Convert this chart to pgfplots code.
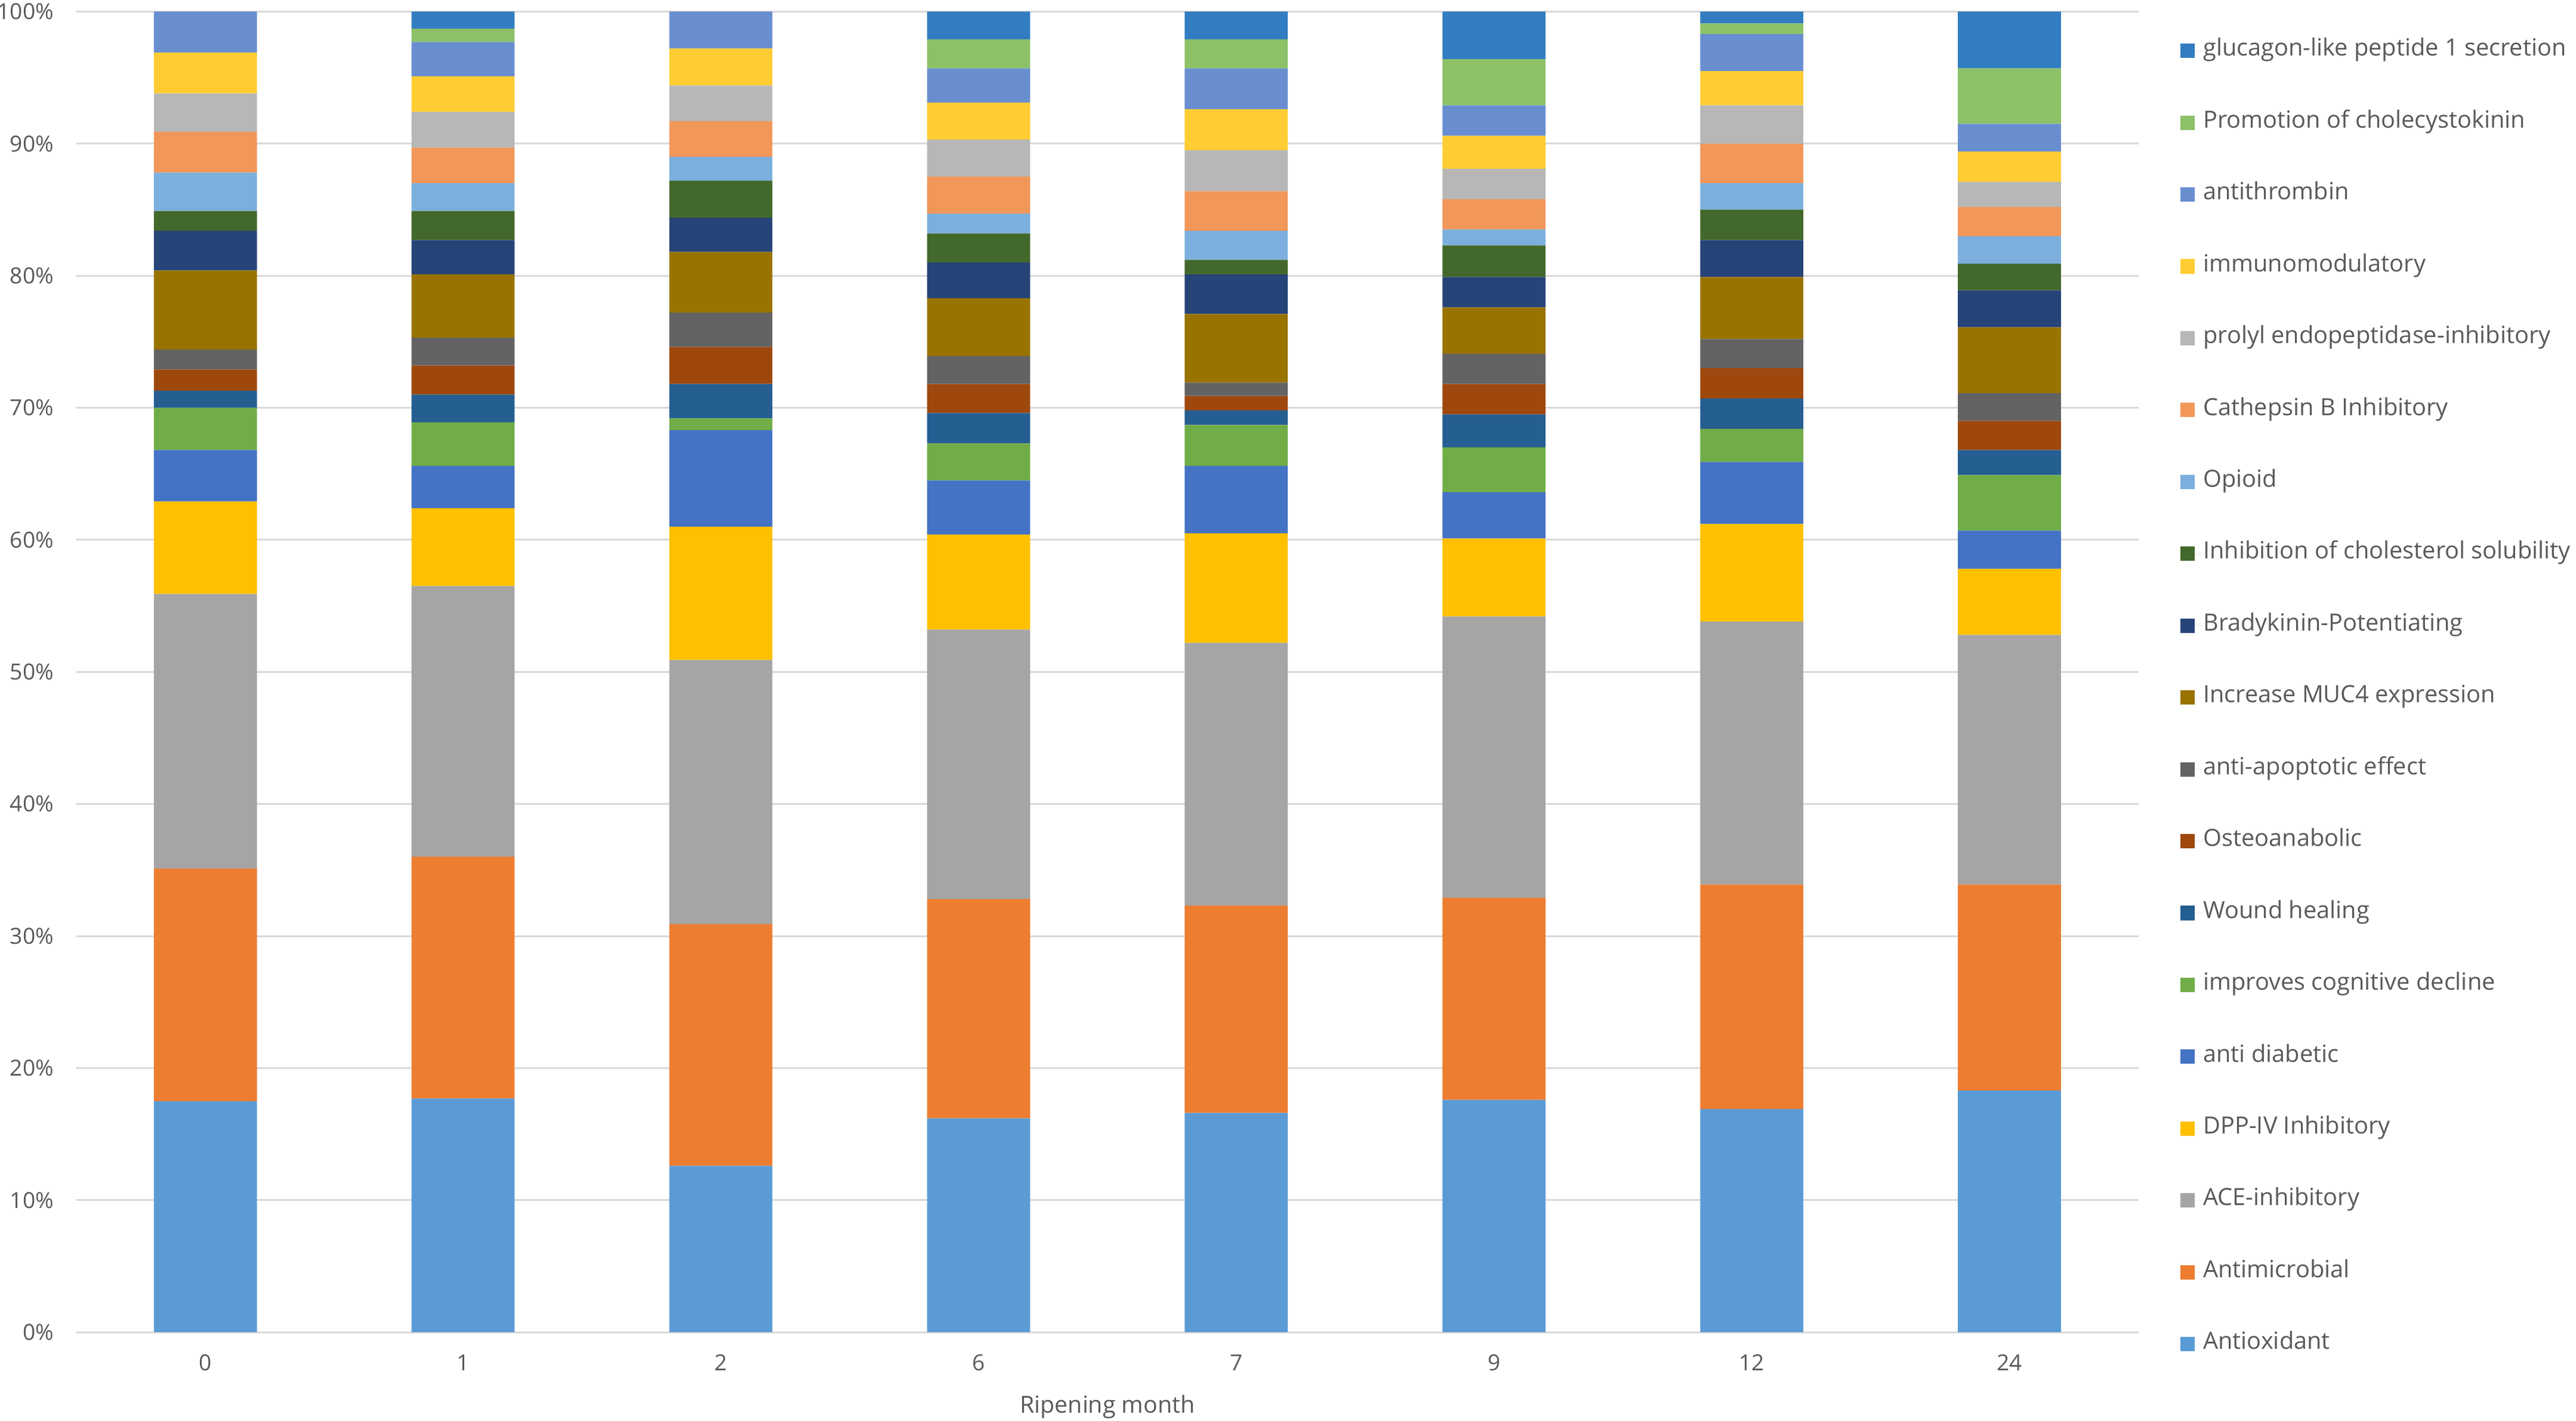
\documentclass[border=0pt]{standalone}
\usepackage{fontspec}
\setmainfont{Open Sans}
\usepackage{pgfplots}
\usepackage{pgfplotstable}
\pgfplotsset{compat=1.18}
\definecolor{cA}{HTML}{5B9BD5}
\definecolor{cB}{HTML}{ED7D31}
\definecolor{cC}{HTML}{A5A5A5}
\definecolor{cD}{HTML}{FFC000}
\definecolor{cE}{HTML}{4472C4}
\definecolor{cF}{HTML}{70AD47}
\definecolor{cG}{HTML}{255E91}
\definecolor{cH}{HTML}{9E480E}
\definecolor{cI}{HTML}{636363}
\definecolor{cJ}{HTML}{997300}
\definecolor{cK}{HTML}{264478}
\definecolor{cL}{HTML}{43682B}
\definecolor{cM}{HTML}{7CAFDD}
\definecolor{cN}{HTML}{F1975A}
\definecolor{cO}{HTML}{B7B7B7}
\definecolor{cP}{HTML}{FFCD33}
\definecolor{cQ}{HTML}{698ED0}
\definecolor{cR}{HTML}{8CC168}
\definecolor{cS}{HTML}{327DC2}
\definecolor{gridgray}{HTML}{D9D9D9}
\definecolor{labelgray}{HTML}{595959}
\pgfplotstableread{
x a b c d e f g h i j k l m n o p q r s
0 17.5 17.6 20.8 7.0 3.9 3.2 1.3 1.6 1.5 6.0 3.0 1.5 2.9 3.1 2.9 3.1 3.1 0.0 0.0
1 17.7 18.3 20.5 5.9 3.2 3.3 2.1 2.2 2.1 4.8 2.6 2.2 2.1 2.7 2.7 2.7 2.6 1.0 1.3
2 12.6 18.3 20.0 10.1 7.3 0.9 2.6 2.8 2.6 4.6 2.6 2.8 1.8 2.7 2.7 2.8 2.8 0.0 0.0
3 16.2 16.6 20.4 7.2 4.1 2.8 2.3 2.2 2.1 4.4 2.7 2.2 1.5 2.8 2.8 2.8 2.6 2.2 2.1
4 16.6 15.7 19.9 8.3 5.1 3.1 1.1 1.1 1.0 5.2 3.0 1.1 2.2 3.0 3.1 3.1 3.1 2.2 2.1
5 17.6 15.3 21.3 5.9 3.5 3.4 2.5 2.3 2.3 3.5 2.3 2.4 1.2 2.3 2.3 2.5 2.3 3.5 3.6
6 16.9 17.0 19.9 7.4 4.7 2.5 2.3 2.3 2.2 4.7 2.8 2.3 2.0 3.0 2.9 2.6 2.8 0.8 0.9
7 18.3 15.6 18.9 5.0 2.9 4.2 1.9 2.2 2.1 5.0 2.8 2.0 2.1 2.2 1.9 2.3 2.1 4.2 4.3
}\data
\begin{document}
\begin{tikzpicture}
\useasboundingbox (0,0) rectangle (1000pt,551.7pt);
\begin{axis}[
  at={(29.7pt,34.4pt)}, anchor=south west,
  scale only axis, width=800.4pt, height=512.8pt,
  ybar stacked, bar width=0.4,
  xmin=-0.5, xmax=7.5, ymin=0, ymax=100,
  xtick={0,...,7}, xticklabels={0,1,2,6,7,9,12,24},
  ytick={0,10,...,100},
  yticklabel={\pgfmathprintnumber{\tick}\%},
  /pgf/number format/assume math mode=true,
  ymajorgrids, grid style={draw=gridgray, line width=0.7pt},
  axis line style={draw=none},
  major tick length=0pt,
  ticklabel style={font=\fontsize{8.6}{10}\selectfont, text=labelgray},
  xticklabel style={anchor=center, yshift=-11.8pt},
  yticklabel style={anchor=east, inner sep=0pt, xshift=-8.7pt},
  xlabel={Ripening month},
  xlabel style={at={(axis description cs:0.5,0)}, anchor=center, yshift=-29pt, font=\fontsize{9.1}{10}\selectfont, text=labelgray},
  legend image code/.code={\fill[#1] (0pt,-2.8pt) rectangle (5.6pt,2.8pt); \path (0pt,0pt) -- (9pt,0pt);},
  reverse legend,
  legend cell align=left,
  legend style={at={(1.020,0.9785)}, anchor=north west, draw=none, fill=none,
    inner sep=0pt, row sep=19.9pt, font=\fontsize{9.2}{10}\selectfont, text=labelgray,
    nodes={inner sep=0pt, text height=6pt, text depth=2pt}},
]
\addplot[fill=cA, draw=none] table[x=x,y=a]{\data};
\addplot[fill=cB, draw=none] table[x=x,y=b]{\data};
\addplot[fill=cC, draw=none] table[x=x,y=c]{\data};
\addplot[fill=cD, draw=none] table[x=x,y=d]{\data};
\addplot[fill=cE, draw=none] table[x=x,y=e]{\data};
\addplot[fill=cF, draw=none] table[x=x,y=f]{\data};
\addplot[fill=cG, draw=none] table[x=x,y=g]{\data};
\addplot[fill=cH, draw=none] table[x=x,y=h]{\data};
\addplot[fill=cI, draw=none] table[x=x,y=i]{\data};
\addplot[fill=cJ, draw=none] table[x=x,y=j]{\data};
\addplot[fill=cK, draw=none] table[x=x,y=k]{\data};
\addplot[fill=cL, draw=none] table[x=x,y=l]{\data};
\addplot[fill=cM, draw=none] table[x=x,y=m]{\data};
\addplot[fill=cN, draw=none] table[x=x,y=n]{\data};
\addplot[fill=cO, draw=none] table[x=x,y=o]{\data};
\addplot[fill=cP, draw=none] table[x=x,y=p]{\data};
\addplot[fill=cQ, draw=none] table[x=x,y=q]{\data};
\addplot[fill=cR, draw=none] table[x=x,y=r]{\data};
\addplot[fill=cS, draw=none] table[x=x,y=s]{\data};
\legend{Antioxidant, Antimicrobial, ACE-inhibitory, DPP-IV Inhibitory, anti diabetic, improves cognitive decline, Wound healing, Osteoanabolic, anti-apoptotic effect, Increase MUC4 expression, Bradykinin-Potentiating, Inhibition of cholesterol solubility, Opioid, Cathepsin B Inhibitory, prolyl endopeptidase-inhibitory, immunomodulatory, antithrombin, Promotion of cholecystokinin, glucagon-like peptide 1 secretion}
\end{axis}
\end{tikzpicture}
\end{document}
